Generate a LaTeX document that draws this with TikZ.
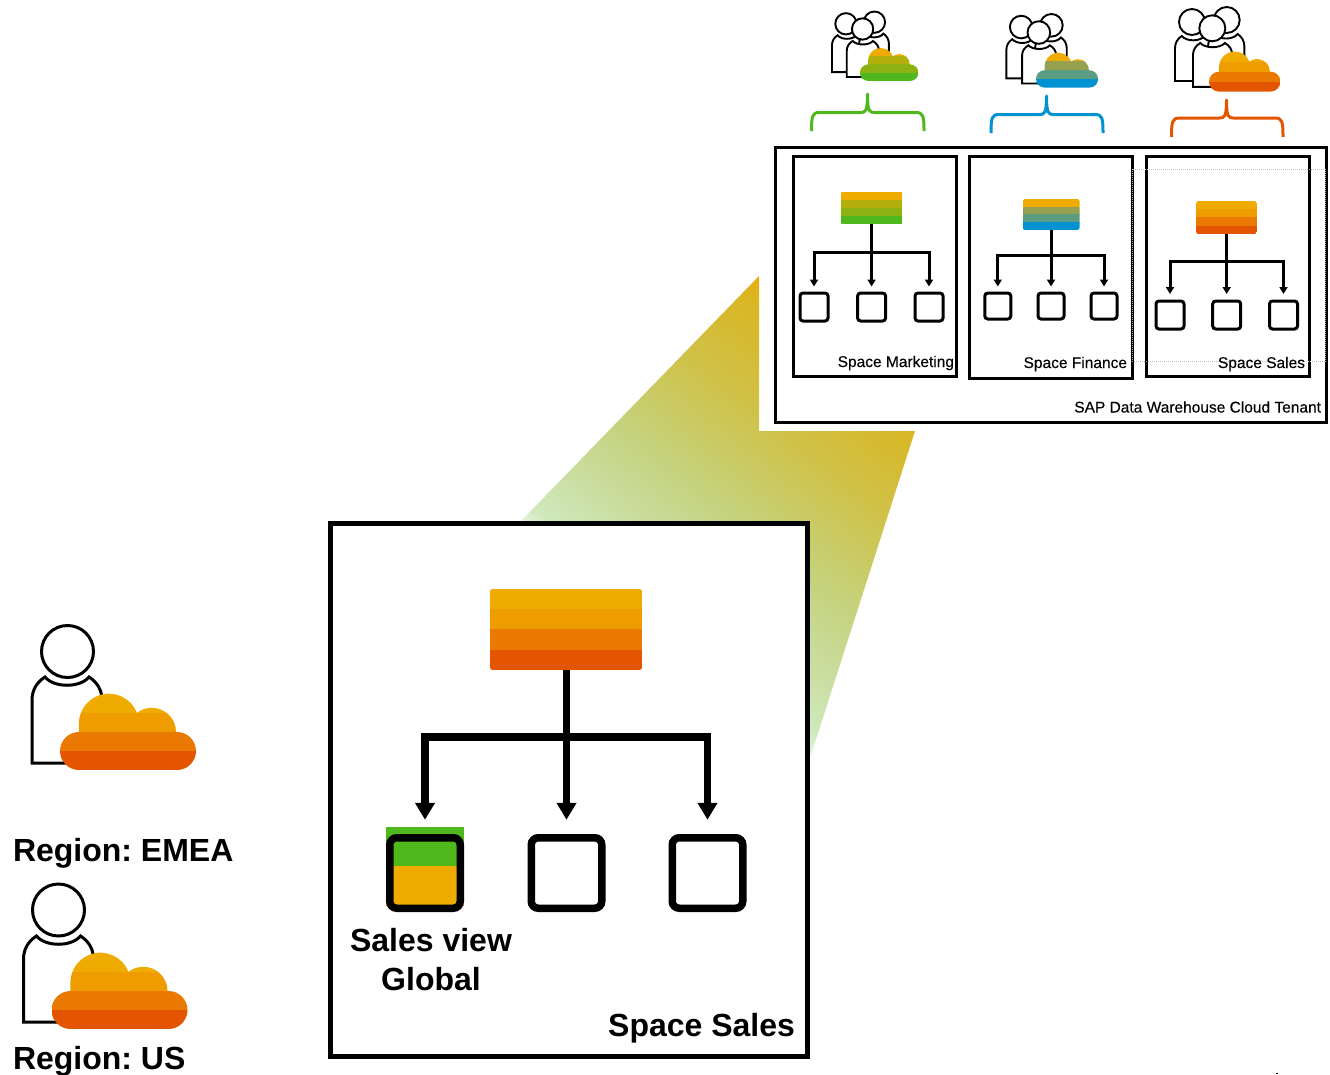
\documentclass[tikz,border=0pt]{standalone}
\usepackage{fontspec}
\setmainfont{Liberation Sans}
\newfontfamily\smallface[FakeBold=0.25]{Liberation Sans}
\frenchspacing
\usetikzlibrary{arrows.meta}
\definecolor{sapA}{HTML}{F0AB00}
\definecolor{sapG}{HTML}{4FB81C}
\definecolor{sapB}{HTML}{0092D1}
\definecolor{sapR}{HTML}{E35500}
\definecolor{beamA}{HTML}{E6F5E0}
\definecolor{beamB}{HTML}{D0E8BC}
\definecolor{beamC}{HTML}{C9DC9C}
\definecolor{beamD}{HTML}{C5D27C}
\definecolor{beamE}{HTML}{CFC24A}
\definecolor{beamF}{HTML}{DAB622}
\definecolor{beamG}{HTML}{E8AE0A}
\pgfdeclareverticalshading{beamshade}{100bp}{color(0bp)=(beamA); color(25bp)=(beamA); color(27.9bp)=(beamB); color(36.6bp)=(beamC); color(45.3bp)=(beamD); color(58.35bp)=(beamE); color(71.4bp)=(beamF); color(75bp)=(beamG); color(100bp)=(beamG)}
\tikzset{
  bigtext/.style={font=\fontsize{32}{39}\selectfont\bfseries,inner sep=0pt,outer sep=0pt},
  smalltext/.style={font=\fontsize{15.5}{18}\selectfont\smallface,inner sep=0pt,outer sep=0pt},
  framebox/.style={draw=black,line width=3pt,fill=white,inner sep=0pt,outer sep=0pt},
  bigframe/.style={draw=black,line width=5pt,fill=white,inner sep=0pt,outer sep=0pt},
  smallsq/.style={draw=black,line width=3pt,rounded corners=3pt,fill=none,inner sep=0pt,outer sep=0pt},
  bigsq/.style={draw=black,line width=7.5pt,rounded corners=7pt,fill=none,inner sep=0pt,outer sep=0pt},
  smalltree/.style={draw=black,line width=3pt,-{Triangle[width=8pt,length=7pt]}},
  bigtree/.style={draw=black,line width=7.5pt,-{Triangle[width=19pt,length=17pt]}},
  bracestroke/.style={line width=3pt,line join=round},
  personline/.style={draw=black,fill=white,line join=miter},
}
% band-filled box: x1 y1 x2 y2 c1..c4
\newcommand{\bandfill}[8]{%
  \begin{scope}
    \path[clip,rounded corners=2.5pt] (#1,#2) rectangle (#3,#4);
    \pgfmathsetmacro{\bandh}{(#4-#2)/4}
    \fill[#5] (#1,#2) rectangle (#3,#2+\bandh);
    \fill[#6] (#1,#2+\bandh-.2) rectangle (#3,#2+2*\bandh);
    \fill[#7] (#1,#2+2*\bandh-.2) rectangle (#3,#2+3*\bandh);
    \fill[#8] (#1,#2+3*\bandh-.2) rectangle (#3,#4);
  \end{scope}}
% cloud, origin top-left, width 136 height 76 at scale 1 (angles are in the flipped y system)
\newcommand{\cloudicon}[7]{%
  \begin{scope}[shift={(#1,#2)},x=#3pt,y=-#3pt]
    \begin{scope}
      \clip (19,38) arc[start angle=270,end angle=90,radius=19]
        -- (117,76) arc[start angle=90,end angle=-90,radius=19]
        -- (116,38) arc[start angle=360,end angle=232,radius=24.2]
        arc[start angle=339,end angle=180,radius=30]
        -- (19,38) -- cycle;
      \fill[#4] (0,-1) rectangle (136,19);
      \fill[#5] (0,18.8) rectangle (136,38);
      \fill[#6] (0,37.8) rectangle (136,57);
      \fill[#7] (0,56.8) rectangle (136,76);
    \end{scope}
  \end{scope}}
% torso shape: left x, neck y, xscale, yscale, line width
\newcommand{\torso}[5]{%
  \begin{scope}[shift={(#1,#2)},x=#3pt,y=-#4pt]
    \path[personline,line width=#5pt] (13,0) .. controls (5,5) and (0,13) .. (0,23) -- (0,86) -- (70,86) -- (70,23)
      .. controls (70,13) and (65,5) .. (57,0) .. controls (48,11) and (22,11) .. (13,0) -- cycle;
  \end{scope}}
% group icon, sales units
\newcommand{\groupicon}[7]{%
  \begin{scope}[shift={(#1,#2)},x=#3pt,y=-#3pt]
    \pgfmathsetmacro{\gsc}{#3}
    \pgfmathsetmacro{\lw}{1.9}
    \pgfmathsetmacro{\hr}{13*\gsc}
    \torso{0}{29}{.52*\gsc}{.523*\gsc}{\lw}
    \path[personline,line width=\lw pt] (17,15) circle[radius=\hr pt];
    \torso{33}{27}{.52*\gsc}{.55*\gsc}{\lw}
    \path[personline,line width=\lw pt] (51.7,13) circle[radius=\hr pt];
    \torso{18}{36}{.56*\gsc}{.51*\gsc}{\lw}
    \path[personline,line width=\lw pt] (37.3,21.3) circle[radius=\hr pt];
    \pgfmathsetmacro{\csc}{.525*\gsc}
    \cloudicon{34}{44.7}{\csc}{#4}{#5}{#6}{#7}
  \end{scope}}
% brace: colour, x left, x centre, x right, y tip, y bar, y foot
\newcommand{\sapbrace}[7]{%
  \draw[#1,bracestroke] (#2,#7) .. controls (#2,#6+3) and (#2+1,#6) .. (#2+8,#6)
    -- (#3-7,#6) .. controls (#3-2,#6) and (#3,#6-1) .. (#3,#5)
    .. controls (#3,#6-1) and (#3+2,#6) .. (#3+7,#6)
    -- (#4-8,#6) .. controls (#4-1,#6) and (#4,#6+3) .. (#4,#7);}
\begin{document}
\begin{tikzpicture}[x=1pt,y=-1pt]
\useasboundingbox (0,0) rectangle (1330,1074);
% beam
\begin{scope}
  \clip (759,276) -- (759,431) -- (915,431) -- (811,755) -- (520,522) -- cycle;
  \begin{scope}[transform canvas={shift={(520,522)},rotate=-38.7}]
    \shade[shading=beamshade] (-700pt,0pt) rectangle (700pt,345pt);
  \end{scope}
\end{scope}
% small tenant
\node[framebox,minimum width=551.5pt,minimum height=275.5pt] (tenant) at (1050.75,284.75) {};
\node[framebox,minimum width=162.5pt,minimum height=219.5pt,fill=none] (fm) at (875,266.3) {};
\node[framebox,minimum width=162.5pt,minimum height=222pt,fill=none] (ff) at (1051,267) {};
\node[framebox,minimum width=162.5pt,minimum height=220.5pt,fill=none] (fs) at (1228,266.5) {};
\draw[gray!50,densely dotted,line width=1pt] (1132,169) rectangle (1325,361);
\node[smalltext,anchor=base east] (tMk) at (954,367) {Space Marketing};
\node[smalltext,anchor=base east] (tFi) at (1127,368) {Space Finance};
\node[smalltext,anchor=base east] (tSa) at (1305,368) {Space Sales};
\node[smalltext,anchor=base east] (tTe) at (1321,412.5) {SAP Data Warehouse Cloud Tenant};
% marketing tree
\bandfill{840.6}{191.7}{902.6}{224.3}{sapA}{sapA!62!sapG}{sapA!38!sapG}{sapG}
\coordinate (rMk) at (871.6,224.3);
\node[smallsq,minimum width=28pt,minimum height=28pt] (m1) at (814,307) {};
\node[smallsq,minimum width=28pt,minimum height=28pt] (m2) at (871.6,307) {};
\node[smallsq,minimum width=28pt,minimum height=28pt] (m3) at (929,307) {};
\coordinate (bMk) at (871.6,252);
\draw[smalltree,shorten >=6.5pt] (rMk) -- (m2.north);
\draw[smalltree,shorten >=6.5pt] (bMk) -| (m1.north);
\draw[smalltree,shorten >=6.5pt] (bMk) -| (m3.north);
% finance tree
\bandfill{1022.7}{199}{1079.7}{230}{sapA}{sapA!62!sapB}{sapA!38!sapB}{sapB}
\coordinate (rFi) at (1051,230);
\node[smallsq,minimum width=26pt,minimum height=26pt] (f1) at (997.8,306) {};
\node[smallsq,minimum width=26pt,minimum height=26pt] (f2) at (1051,306) {};
\node[smallsq,minimum width=26pt,minimum height=26pt] (f3) at (1104,306) {};
\coordinate (bFi) at (1051,255);
\draw[smalltree,shorten >=6.5pt] (rFi) -- (f2.north);
\draw[smalltree,shorten >=6.5pt] (bFi) -| (f1.north);
\draw[smalltree,shorten >=6.5pt] (bFi) -| (f3.north);
% sales tree
\bandfill{1196}{201}{1257}{234}{sapA}{sapA!82!sapR}{sapA!42!sapR}{sapR}
\coordinate (rSa) at (1226.7,234);
\node[smallsq,minimum width=28pt,minimum height=28pt] (s1) at (1170,315) {};
\node[smallsq,minimum width=28pt,minimum height=28pt] (s2) at (1226.7,315) {};
\node[smallsq,minimum width=28pt,minimum height=28pt] (s3) at (1283.5,315) {};
\coordinate (bSa) at (1226.7,261);
\draw[smalltree,shorten >=7pt] (rSa) -- (s2.north);
\draw[smalltree,shorten >=7pt] (bSa) -| (s1.north);
\draw[smalltree,shorten >=7pt] (bSa) -| (s3.north);
% braces
\sapbrace{sapG}{811.5}{867.5}{924}{94}{112.5}{131}
\sapbrace{sapB}{991}{1046.5}{1103}{96}{114.5}{133}
\sapbrace{sapR}{1171.5}{1226.5}{1283}{100}{118}{137}
% group icons
\groupicon{832}{11.5}{.82}{sapA}{sapA!62!sapG}{sapA!38!sapG}{sapG}
\groupicon{1006.4}{14}{.87}{sapA}{sapA!62!sapB}{sapA!38!sapB}{sapB}
\groupicon{1175}{7}{1}{sapA}{sapA!82!sapR}{sapA!42!sapR}{sapR}
% large space sales
\node[bigframe,minimum width=476.5pt,minimum height=533pt] (big) at (568.75,790) {};
\bandfill{490}{589}{642}{670}{sapA}{sapA!82!sapR}{sapA!42!sapR}{sapR}
\coordinate (rootB) at (566.5,670);
\fill[sapG] (385.7,827) rectangle (464,866);
\fill[sapA] (385.7,866) rectangle (464,906);
\node[bigsq,minimum width=70.5pt,minimum height=70.5pt] (q1) at (425,873) {};
\node[bigsq,minimum width=70.5pt,minimum height=70.5pt] (q2) at (566.5,873) {};
\node[bigsq,minimum width=70.5pt,minimum height=70.5pt] (q3) at (707.5,873) {};
\coordinate (busB) at (566.5,737);
\draw[bigtree,shorten >=18pt] (rootB) -- (q2.north);
\draw[bigtree,shorten >=18pt] (busB) -| (q1.north);
\draw[bigtree,shorten >=18pt] (busB) -| (q3.north);
\node[bigtext,align=center,anchor=base] (lbS) at (431,990) {Sales view\\Global};
\node[bigtext,anchor=base east] (lbB) at (795,1036) {Space Sales};
% users
\torso{32}{677}{1}{1}{3}
\path[personline,line width=3pt] (67.5,651.5) circle[radius=26];
\cloudicon{60}{694}{1}{sapA}{sapA!82!sapR}{sapA!42!sapR}{sapR}
\node[bigtext,anchor=base west] (lbE) at (13,861) {Region: EMEA};
\torso{23.5}{936}{1}{1}{3}
\path[personline,line width=3pt] (58.5,910) circle[radius=26];
\cloudicon{51.5}{953}{1}{sapA}{sapA!82!sapR}{sapA!42!sapR}{sapR}
\node[bigtext,anchor=base west] (lbU) at (13,1069) {Region: US};
\fill[black] (1275.5,1072.5) rectangle (1278,1074);
\end{tikzpicture}
\end{document}
